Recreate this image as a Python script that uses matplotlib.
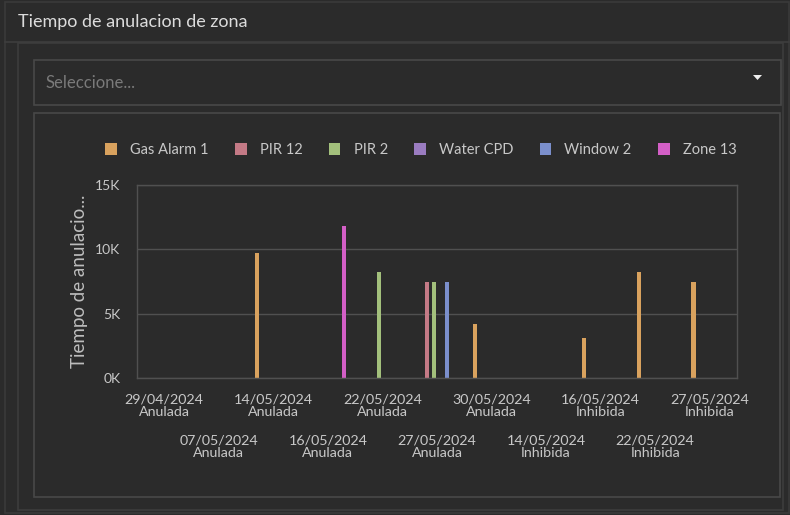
import matplotlib
matplotlib.use("Agg")
import matplotlib.pyplot as plt
import numpy as np
from matplotlib.patches import Rectangle, Polygon
from matplotlib.ticker import FuncFormatter

plt.rcParams["font.family"] = ["Lato", "DejaVu Sans"]

# ---- data -------------------------------------------------------------
categories = [
    "29/04/2024\nAnulada", "07/05/2024\nAnulada", "14/05/2024\nAnulada",
    "16/05/2024\nAnulada", "22/05/2024\nAnulada", "27/05/2024\nAnulada",
    "30/05/2024\nAnulada", "14/05/2024\nInhibida", "16/05/2024\nInhibida",
    "22/05/2024\nInhibida", "27/05/2024\nInhibida",
]
series_names = ["Gas Alarm 1", "PIR 12", "PIR 2", "Water CPD", "Window 2", "Zone 13"]
gas_alarm_1 = [0, 0, 9700, 0, 0, 0, 4200, 0, 3100, 8200, 7500]
pir_12      = [0, 0, 0, 0, 0, 7500, 0, 0, 0, 0, 0]
pir_2       = [0, 0, 0, 0, 8200, 7500, 0, 0, 0, 0, 0]
water_cpd   = [0, 0, 0, 0, 0, 0, 0, 0, 0, 0, 0]
window_2    = [0, 0, 0, 0, 0, 7500, 0, 0, 0, 0, 0]
zone_13     = [0, 0, 0, 11800, 0, 0, 0, 0, 0, 0, 0]
series_values = [gas_alarm_1, pir_12, pir_2, water_cpd, window_2, zone_13]
series_colors = ["#d9a25e", "#c47a86", "#a3c07c", "#9a7cc0", "#7b8fcc", "#d35fc6"]

BG = "#2b2b2b"
BORDER = "#444444"
TXT = "#c8c8c8"

W, H = 790, 515
fig = plt.figure(figsize=(W / 100, H / 100), dpi=100)
fig.patch.set_facecolor(BG)

# ---- panel chrome (pixel coordinates) ---------------------------------
ui = fig.add_axes([0, 0, 1, 1])
ui.set_xlim(0, W)
ui.set_ylim(H, 0)
ui.axis("off")

def box(x0, y0, x1, y1, ec=BORDER, fc="none", lw=1.2):
    ui.add_patch(Rectangle((x0, y0), x1 - x0, y1 - y0, fc=fc, ec=ec, lw=lw))

box(5, 2, 789, 513, ec="#3a3a3a")
ui.plot([5, 789], [42, 42], color="#3e3e3e", lw=1.2)
box(18, 43, 783, 510, ec="#3c3c3c")
box(34, 60, 781, 105, ec="#484848")
box(34, 113, 780, 497, ec="#484848")

ui.text(18, 22, "Tiempo de anulacion de zona", fontsize=13, color="#dcdcdc",
        va="center", ha="left")
ui.text(45, 83, "Seleccione...", fontsize=12, color="#7a7a7a",
        va="center", ha="left")
ui.add_patch(Polygon([(753, 75), (762, 75), (757.5, 80)], closed=True,
                     fc="#eeeeee", ec="none"))

# ---- chart ------------------------------------------------------------
ax = fig.add_axes([137 / W, 1 - 378 / H, 600 / W, 193 / H])
ax.set_facecolor(BG)

x = np.arange(len(categories))
step = 0.119
bar_w = 0.075
for i, (name, vals, col) in enumerate(zip(series_names, series_values, series_colors)):
    ax.bar(x + (i - 2.5) * step, vals, width=bar_w, color=col, label=name,
           edgecolor="none")

ax.set_xlim(-0.5, len(categories) - 0.5)
ax.set_ylim(0, 15000)
ax.set_yticks([0, 5000, 10000, 15000])
ax.yaxis.set_major_formatter(FuncFormatter(lambda v, _: f"{v / 1000:.0f}K"))
ax.grid(axis="y", color="#505050", lw=1)
ax.set_axisbelow(True)
for s in ax.spines.values():
    s.set_color("#505050")
    s.set_linewidth(1)

ax.set_xticks(x)
ax.set_xticklabels(categories, fontsize=10.3, color=TXT, linespacing=1.05)
ax.tick_params(axis="x", length=0)
for i, t in enumerate(ax.xaxis.get_major_ticks()):
    t.set_pad(11 if i % 2 == 0 else 41)
ax.tick_params(axis="y", length=0, pad=12, labelsize=10, labelcolor=TXT)

ax.set_ylabel("Tiempo de anulacio...", fontsize=13.5, color="#bdbdbd", labelpad=5)

leg = ax.legend(loc="center", bbox_to_anchor=(421 / W, 1 - 150 / H),
                bbox_transform=fig.transFigure, ncol=6, frameon=False,
                fontsize=10.5, handlelength=0.8, handleheight=0.8,
                handletextpad=0.9, columnspacing=1.8)
for t in leg.get_texts():
    t.set_color(TXT)

fig.savefig("out.png", dpi=100, facecolor=BG)
